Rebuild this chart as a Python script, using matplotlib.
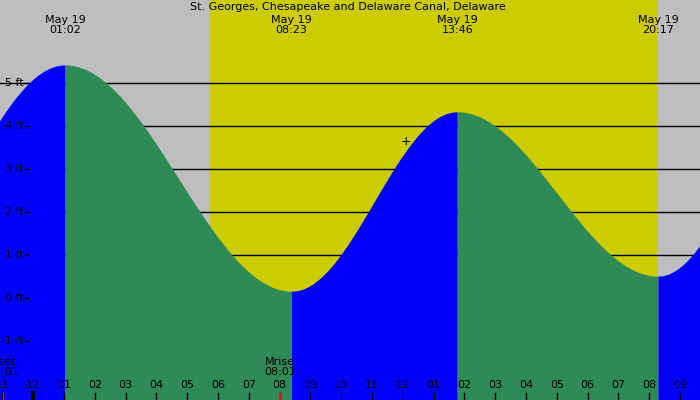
import numpy as np
import matplotlib
matplotlib.use("Agg")
import matplotlib.pyplot as plt

title = "St. Georges, Chesapeake and Delaware Canal, Delaware"
# extrema (hours relative to May 19 00:00) and heights (ft)
ext_times = [-5.3, 1.033, 8.383, 13.767, 20.283, 25.5]
ext_heights = [0.3, 5.42, 0.16, 4.33, 0.51, 5.0]
ext_labels = ["", "May 19\n01:02", "May 19\n08:23", "May 19\n13:46", "May 19\n20:17", ""]
sunrise, sunset = 5.74, 20.22
ft_levels = [-1, 0, 1, 2, 3, 4, 5]
hour_ticks = list(range(-1, 22))
moon_events = [(-0.983, "Mset\n23:01"), (8.017, "Mrise\n08:01")]
xmin, xmax, ymin, ymax = -1.08, 21.65, -2.37, 6.93

fig = plt.figure(figsize=(7, 4), dpi=100)
ax = fig.add_axes([0, 0, 1, 1])
ax.set_xlim(xmin, xmax); ax.set_ylim(ymin, ymax); ax.axis("off")
dy = (ymax - ymin) / 400
ax.axvspan(xmin, xmax, color="#bebebe", zorder=0)
ax.axvspan(sunrise, sunset, color="#cccc00", zorder=0)
for lv in ft_levels[2:]:
    ax.axhline(lv, color="black", lw=1, zorder=1)

for i in range(len(ext_times) - 1):
    t0, t1 = ext_times[i], ext_times[i + 1]
    h0, h1 = ext_heights[i], ext_heights[i + 1]
    t = np.linspace(t0, t1, 300)
    h = h0 + (h1 - h0) * (1 - np.cos(np.pi * (t - t0) / (t1 - t0))) / 2
    col = "#0000ff" if h1 > h0 else "#2e8b57"
    ax.fill_between(t, ymin, h, color=col, lw=0, zorder=2)

for lv in ft_levels:
    ax.text(-0.3, lv, f"{lv} ft", fontsize=8, ha="right", va="center", zorder=5)
    ax.plot([-0.28, -0.18], [lv, lv], color="black", lw=1, zorder=5)

for t, lab in zip(ext_times, ext_labels):
    if lab:
        ax.text(t, ymax - 25 * dy, lab, fontsize=8, ha="center", va="center", linespacing=0.95, zorder=5)
ax.text(10.2, ymax - 7 * dy, title, fontsize=8, ha="center", va="center", zorder=5)

for hr in hour_ticks:
    lab = f"{(hr - 1) % 12 + 1:02d}"
    ax.text(hr, ymin + 15 * dy, lab, fontsize=8, ha="center", va="center", zorder=5)
    ax.plot([hr, hr], [ymin, ymin + 7 * dy], color="black", lw=1, zorder=5)
ax.plot([0, 0], [ymin, ymin + 7 * dy], color="black", lw=3, zorder=6)
for t, lab in moon_events:
    ax.text(t, ymin + 33 * dy, lab, fontsize=8, ha="center", va="center", linespacing=0.95, zorder=5)
    ax.plot([t, t], [ymin, ymin + 7 * dy], color="red", lw=1, zorder=6)
ax.text(12.1, 3.65, "+", fontsize=9, ha="center", va="center", zorder=5)

fig.savefig("out.png", dpi=100)
